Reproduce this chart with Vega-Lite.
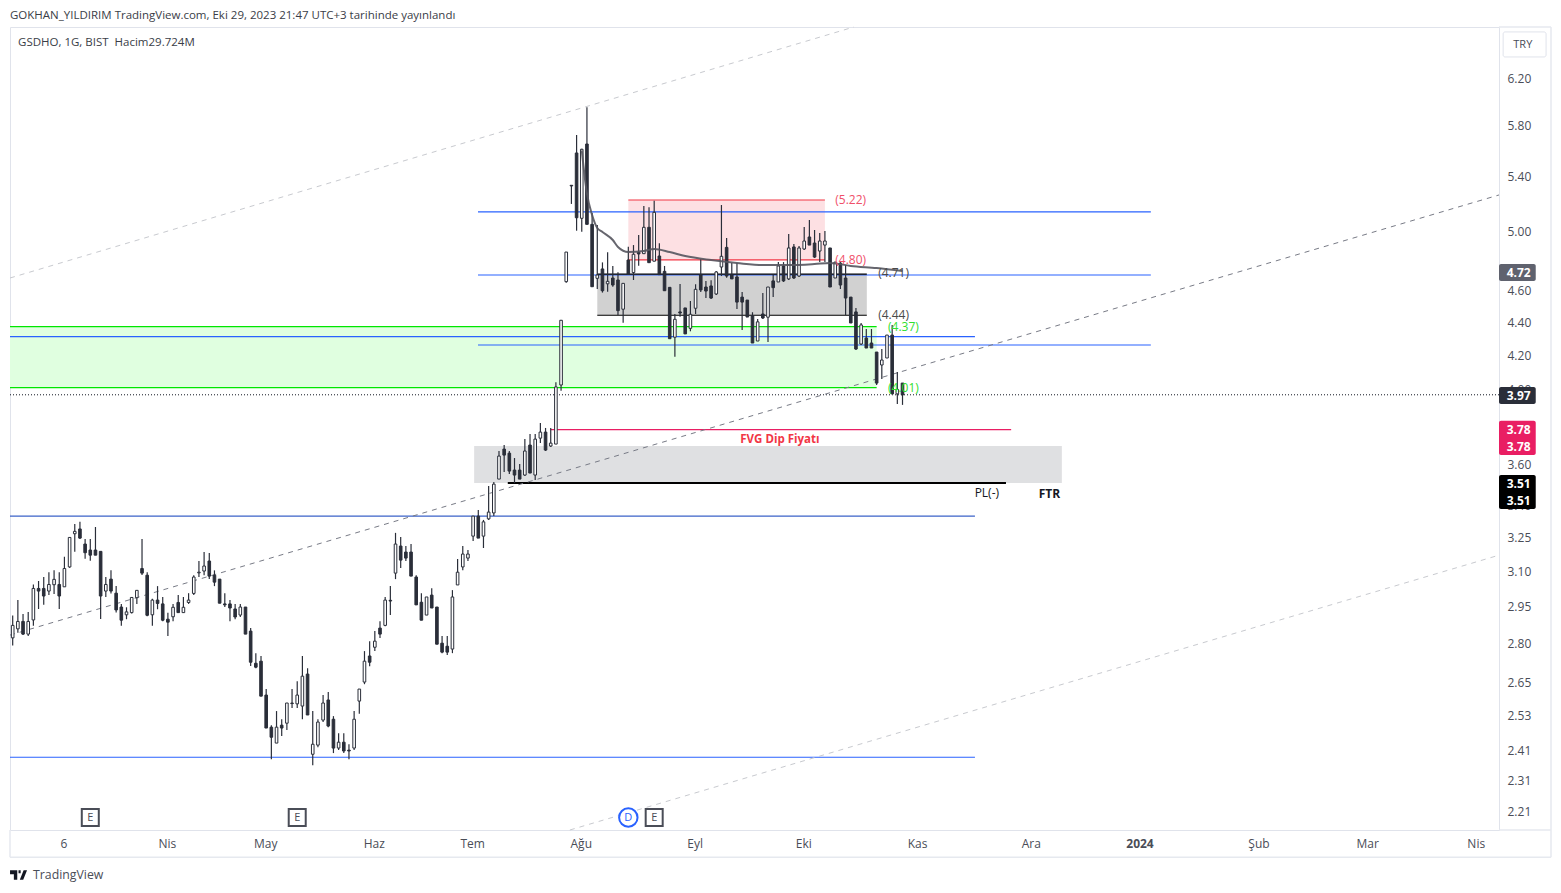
{"$schema":"https://vega.github.io/schema/vega-lite/v6.json","width":1489,"height":803,"autosize":"none","padding":{"left":10,"top":27,"right":62,"bottom":63},"background":"white","config":{"view":{"stroke":"#e0e3eb"},"font":"Open Sans","scale":{"continuousPadding":0}},
"resolve":{"scale":{"color":"independent"},"axis":{"x":"independent","y":"independent"}},
"datasets":{"candles":[
{"k":0,"open":2.82,"high":2.91,"low":2.79,"close":2.87},{"k":1,"open":2.856,"high":2.974,"low":2.84,"close":2.886},{"k":2,"open":2.886,"high":2.916,"low":2.831,"close":2.835},{"k":3,"open":2.835,"high":2.925,"low":2.827,"close":2.886},{"k":4,"open":2.892,"high":3.04,"low":2.868,"close":3.023},{"k":5,"open":3.023,"high":3.055,"low":2.937,"close":3.012},{"k":6,"open":3.023,"high":3.072,"low":2.955,"close":2.991},{"k":7,"open":3.012,"high":3.093,"low":2.995,"close":3.04},{"k":8,"open":3.039,"high":3.101,"low":3.0,"close":3.062},{"k":9,"open":3.04,"high":3.093,"low":2.937,"close":2.991},
{"k":10,"open":3.03,"high":3.161,"low":3.03,"close":3.109},{"k":11,"open":3.116,"high":3.248,"low":3.112,"close":3.248},{"k":12,"open":3.265,"high":3.31,"low":3.183,"close":3.276},{"k":13,"open":3.287,"high":3.32,"low":3.241,"close":3.245},{"k":14,"open":3.218,"high":3.241,"low":3.152,"close":3.179},{"k":15,"open":3.191,"high":3.241,"low":3.143,"close":3.168},{"k":16,"open":3.191,"high":3.296,"low":3.168,"close":3.168},{"k":17,"open":3.185,"high":3.185,"low":2.896,"close":2.991},{"k":18,"open":3.012,"high":3.072,"low":2.987,"close":3.04},{"k":19,"open":3.063,"high":3.102,"low":3.002,"close":3.012},
{"k":20,"open":3.003,"high":3.033,"low":2.922,"close":2.933},{"k":21,"open":2.945,"high":2.958,"low":2.868,"close":2.891},{"k":22,"open":2.913,"high":2.944,"low":2.895,"close":2.925},{"k":23,"open":2.922,"high":2.987,"low":2.918,"close":2.985},{"k":24,"open":2.984,"high":3.015,"low":2.958,"close":3.015},{"k":25,"open":3.109,"high":3.241,"low":3.081,"close":3.089},{"k":26,"open":3.08,"high":3.093,"low":2.907,"close":2.911},{"k":27,"open":2.913,"high":2.98,"low":2.868,"close":2.974},{"k":28,"open":2.974,"high":3.033,"low":2.936,"close":2.96},{"k":29,"open":2.958,"high":2.987,"low":2.887,"close":2.891},
{"k":30,"open":2.895,"high":2.921,"low":2.827,"close":2.883},{"k":31,"open":2.905,"high":2.958,"low":2.887,"close":2.944},{"k":32,"open":2.964,"high":2.995,"low":2.922,"close":2.922},{"k":33,"open":2.922,"high":2.987,"low":2.922,"close":2.944},{"k":34,"open":2.964,"high":3.003,"low":2.958,"close":2.974},{"k":35,"open":3.002,"high":3.08,"low":2.995,"close":3.072},{"k":36,"open":3.09,"high":3.142,"low":3.072,"close":3.093},{"k":37,"open":3.098,"high":3.182,"low":3.08,"close":3.12},{"k":38,"open":3.142,"high":3.178,"low":3.063,"close":3.076},{"k":39,"open":3.08,"high":3.101,"low":3.033,"close":3.05},
{"k":40,"open":3.063,"high":3.063,"low":2.961,"close":2.961},{"k":41,"open":2.958,"high":3.003,"low":2.945,"close":2.954},{"k":42,"open":2.958,"high":2.974,"low":2.887,"close":2.941},{"k":43,"open":2.937,"high":2.958,"low":2.895,"close":2.904},{"k":44,"open":2.912,"high":2.958,"low":2.904,"close":2.945},{"k":45,"open":2.945,"high":2.945,"low":2.835,"close":2.835},{"k":46,"open":2.847,"high":2.859,"low":2.711,"close":2.725},{"k":47,"open":2.721,"high":2.76,"low":2.702,"close":2.706},{"k":48,"open":2.729,"high":2.749,"low":2.598,"close":2.598},{"k":49,"open":2.602,"high":2.624,"low":2.484,"close":2.484},
{"k":50,"open":2.487,"high":2.494,"low":2.377,"close":2.452},{"k":51,"open":2.432,"high":2.544,"low":2.432,"close":2.487},{"k":52,"open":2.494,"high":2.515,"low":2.456,"close":2.484},{"k":53,"open":2.501,"high":2.573,"low":2.477,"close":2.573},{"k":54,"open":2.573,"high":2.624,"low":2.555,"close":2.571},{"k":55,"open":2.57,"high":2.653,"low":2.555,"close":2.602},{"k":56,"open":2.562,"high":2.749,"low":2.515,"close":2.672},{"k":57,"open":2.68,"high":2.702,"low":2.53,"close":2.53},{"k":58,"open":2.394,"high":2.544,"low":2.357,"close":2.428},{"k":59,"open":2.425,"high":2.515,"low":2.418,"close":2.505},
{"k":60,"open":2.512,"high":2.602,"low":2.505,"close":2.573},{"k":61,"open":2.584,"high":2.613,"low":2.487,"close":2.491},{"k":62,"open":2.515,"high":2.526,"low":2.398,"close":2.415},{"k":63,"open":2.415,"high":2.466,"low":2.408,"close":2.435},{"k":64,"open":2.435,"high":2.466,"low":2.398,"close":2.405},{"k":65,"open":2.408,"high":2.428,"low":2.377,"close":2.405},{"k":66,"open":2.415,"high":2.544,"low":2.408,"close":2.515},{"k":67,"open":2.58,"high":2.624,"low":2.534,"close":2.624},{"k":68,"open":2.65,"high":2.768,"low":2.642,"close":2.729},{"k":69,"open":2.749,"high":2.807,"low":2.71,"close":2.725},
{"k":70,"open":2.783,"high":2.847,"low":2.768,"close":2.807},{"k":71,"open":2.859,"high":2.887,"low":2.819,"close":2.835},{"k":72,"open":2.87,"high":2.987,"low":2.866,"close":2.974},{"k":73,"open":2.973,"high":3.033,"low":2.912,"close":2.97},{"k":74,"open":3.089,"high":3.269,"low":3.063,"close":3.218},{"k":75,"open":3.209,"high":3.25,"low":3.111,"close":3.146},{"k":76,"open":3.182,"high":3.209,"low":3.142,"close":3.155},{"k":77,"open":3.182,"high":3.218,"low":3.076,"close":3.076},{"k":78,"open":3.072,"high":3.08,"low":2.954,"close":2.954},{"k":79,"open":2.965,"high":3.003,"low":2.891,"close":2.891},
{"k":80,"open":2.912,"high":2.987,"low":2.912,"close":2.987},{"k":81,"open":2.995,"high":3.024,"low":2.941,"close":2.941},{"k":82,"open":2.945,"high":2.945,"low":2.795,"close":2.795},{"k":83,"open":2.799,"high":2.827,"low":2.76,"close":2.764},{"k":84,"open":2.787,"high":2.827,"low":2.753,"close":2.764},{"k":85,"open":2.776,"high":3.016,"low":2.76,"close":2.987},{"k":86,"open":3.038,"high":3.151,"low":3.038,"close":3.093},{"k":87,"open":3.116,"high":3.209,"low":3.102,"close":3.173},{"k":88,"open":3.155,"high":3.191,"low":3.142,"close":3.173},{"k":89,"open":3.254,"high":3.347,"low":3.232,"close":3.347},
{"k":90,"open":3.347,"high":3.376,"low":3.245,"close":3.245},{"k":91,"open":3.254,"high":3.329,"low":3.2,"close":3.32},{"k":92,"open":3.334,"high":3.492,"low":3.329,"close":3.366},{"k":93,"open":3.362,"high":3.511,"low":3.347,"close":3.501},{"k":94,"open":3.526,"high":3.668,"low":3.526,"close":3.642},{"k":95,"open":3.678,"high":3.699,"low":3.561,"close":3.647},{"k":96,"open":3.657,"high":3.668,"low":3.551,"close":3.566},{"k":97,"open":3.571,"high":3.632,"low":3.506,"close":3.546},{"k":98,"open":3.571,"high":3.601,"low":3.526,"close":3.526},{"k":99,"open":3.546,"high":3.73,"low":3.541,"close":3.668},
{"k":100,"open":3.699,"high":3.757,"low":3.556,"close":3.556},{"k":101,"open":3.546,"high":3.757,"low":3.521,"close":3.73},{"k":102,"open":3.735,"high":3.816,"low":3.709,"close":3.767},{"k":103,"open":3.767,"high":3.789,"low":3.668,"close":3.673},{"k":104,"open":3.694,"high":3.789,"low":3.689,"close":3.709},{"k":105,"open":3.704,"high":4.041,"low":3.704,"close":4.014},{"k":106,"open":4.025,"high":4.411,"low":3.993,"close":4.409},{"k":107,"open":4.655,"high":4.853,"low":4.648,"close":4.853},{"k":108,"open":5.331,"high":5.331,"low":5.193,"close":5.326},{"k":109,"open":5.579,"high":5.722,"low":5.001,"close":5.093},
{"k":110,"open":5.089,"high":5.613,"low":4.994,"close":5.608},{"k":111,"open":5.65,"high":5.95,"low":5.046,"close":5.046},{"k":112,"open":5.046,"high":5.127,"low":4.622,"close":4.622},{"k":113,"open":4.677,"high":5.042,"low":4.607,"close":4.699},{"k":114,"open":4.739,"high":4.783,"low":4.584,"close":4.596},{"k":115,"open":4.641,"high":4.851,"low":4.59,"close":4.657},{"k":116,"open":4.679,"high":4.759,"low":4.622,"close":4.633},{"k":117,"open":4.666,"high":4.717,"low":4.442,"close":4.469},{"k":118,"open":4.478,"high":4.644,"low":4.394,"close":4.644},{"k":119,"open":4.799,"high":4.89,"low":4.704,"close":4.704},
{"k":120,"open":4.715,"high":4.901,"low":4.666,"close":4.838},{"k":121,"open":4.851,"high":4.971,"low":4.76,"close":4.84},{"k":122,"open":4.842,"high":5.178,"low":4.842,"close":5.025},{"k":123,"open":5.025,"high":5.168,"low":4.781,"close":4.781},{"k":124,"open":4.791,"high":5.217,"low":4.791,"close":5.132},{"k":125,"open":4.826,"high":4.913,"low":4.701,"close":4.701},{"k":126,"open":4.723,"high":4.759,"low":4.596,"close":4.596},{"k":127,"open":4.618,"high":4.618,"low":4.296,"close":4.296},{"k":128,"open":4.305,"high":4.448,"low":4.189,"close":4.415},{"k":129,"open":4.461,"high":4.64,"low":4.431,"close":4.454},
{"k":130,"open":4.486,"high":4.486,"low":4.325,"close":4.325},{"k":131,"open":4.359,"high":4.53,"low":4.341,"close":4.446},{"k":132,"open":4.484,"high":4.638,"low":4.448,"close":4.605},{"k":133,"open":4.699,"high":4.804,"low":4.588,"close":4.601},{"k":134,"open":4.62,"high":4.66,"low":4.549,"close":4.594},{"k":135,"open":4.627,"high":4.664,"low":4.543,"close":4.549},{"k":136,"open":4.575,"high":4.725,"low":4.568,"close":4.719},{"k":137,"open":4.752,"high":5.185,"low":4.692,"close":4.824},{"k":138,"open":4.885,"high":4.95,"low":4.681,"close":4.692},{"k":139,"open":4.699,"high":4.779,"low":4.673,"close":4.673},
{"k":140,"open":4.686,"high":4.779,"low":4.479,"close":4.523},{"k":141,"open":4.555,"high":4.588,"low":4.349,"close":4.523},{"k":142,"open":4.536,"high":4.536,"low":4.429,"close":4.429},{"k":143,"open":4.436,"high":4.459,"low":4.27,"close":4.27},{"k":144,"open":4.282,"high":4.417,"low":4.282,"close":4.399},{"k":145,"open":4.448,"high":4.581,"low":4.417,"close":4.423},{"k":146,"open":4.428,"high":4.62,"low":4.276,"close":4.62},{"k":147,"open":4.66,"high":4.699,"low":4.555,"close":4.616},{"k":148,"open":4.653,"high":4.785,"low":4.653,"close":4.759},{"k":149,"open":4.759,"high":4.785,"low":4.653,"close":4.66},
{"k":150,"open":4.673,"high":4.978,"low":4.666,"close":4.881},{"k":151,"open":4.888,"high":4.908,"low":4.673,"close":4.679},{"k":152,"open":4.692,"high":4.895,"low":4.686,"close":4.881},{"k":153,"open":4.874,"high":5.027,"low":4.867,"close":4.929},{"k":154,"open":4.957,"high":5.077,"low":4.901,"close":4.901},{"k":155,"open":4.915,"high":5.006,"low":4.813,"close":4.819},{"k":156,"open":4.86,"high":4.985,"low":4.785,"close":4.929},{"k":157,"open":4.901,"high":4.999,"low":4.785,"close":4.929},{"k":158,"open":4.881,"high":4.881,"low":4.62,"close":4.62},{"k":159,"open":4.679,"high":4.785,"low":4.679,"close":4.785},
{"k":160,"open":4.778,"high":4.785,"low":4.607,"close":4.633},{"k":161,"open":4.679,"high":4.765,"low":4.442,"close":4.549},{"k":162,"open":4.555,"high":4.555,"low":4.392,"close":4.392},{"k":163,"open":4.461,"high":4.486,"low":4.228,"close":4.234},{"k":164,"open":4.264,"high":4.392,"low":4.258,"close":4.38},{"k":165,"open":4.3,"high":4.355,"low":4.24,"close":4.24},{"k":166,"open":4.27,"high":4.355,"low":4.24,"close":4.24},{"k":167,"open":4.216,"high":4.216,"low":4.025,"close":4.036},{"k":168,"open":4.14,"high":4.234,"low":4.059,"close":4.169},{"k":169,"open":4.181,"high":4.318,"low":4.181,"close":4.318},
{"k":170,"open":4.318,"high":4.38,"low":3.975,"close":3.975},{"k":171,"open":3.975,"high":4.099,"low":3.919,"close":4.0},{"k":172,"open":4.036,"high":4.036,"low":3.914,"close":3.97}],
"ma":[{"k":110,"p":5.6},{"k":111,"p":5.27},{"k":112,"p":5.113},{"k":113,"p":5.02},{"k":114,"p":4.992},{"k":116,"p":4.936},{"k":117,"p":4.888},{"k":119,"p":4.853},{"k":122,"p":4.86},{"k":124,"p":4.874},{"k":127,"p":4.853},{"k":130,"p":4.826},{"k":135,"p":4.799},{"k":140,"p":4.779},{"k":145,"p":4.765},{"k":150,"p":4.765},{"k":155,"p":4.772},{"k":158,"p":4.779},{"k":162,"p":4.759},{"k":167,"p":4.745},{"k":172,"p":4.725}],
"zones":[{"k":-0.52,"k2":167,"p":4.37,"p2":4.01,"zone":"support"},{"k":119,"k2":157,"p":5.222,"p2":4.8,"zone":"supply"},{"k":113,"k2":165.1,"p":4.705,"p2":4.44,"zone":"range"},{"k":89.2,"k2":202.8,"p":3.694,"p2":3.506,"zone":"ftr"}],
"levels":[{"k":89.94,"k2":220,"p":5.135,"kind":"blue"},{"k":89.94,"k2":220,"p":4.699,"kind":"blue"},{"k":89.94,"k2":220,"p":4.258,"kind":"blue"},{"k":-0.52,"k2":186,"p":4.309,"kind":"blue"},{"k":-0.52,"k2":186,"p":3.347,"kind":"slate"},{"k":-0.52,"k2":186,"p":2.384,"kind":"blue"},{"k":-0.52,"k2":167,"p":4.37,"kind":"lime"},{"k":-0.52,"k2":167,"p":4.01,"kind":"lime"},{"k":119,"k2":157,"p":5.222,"kind":"red"},{"k":119,"k2":157,"p":4.8,"kind":"red"},{"k":113,"k2":165.1,"p":4.705,"kind":"black"},{"k":113,"k2":165.1,"p":4.44,"kind":"black"},{"k":104,"k2":193,"p":3.78,"kind":"crimson"}],
"trends":[{"k":-0.52,"p":2.831,"k2":287.3,"p2":5.259,"kind":"dark"},{"k":-0.52,"p":4.679,"k2":162.6,"p2":6.661,"kind":"light"},{"k":107.7,"p":2.152,"k2":287.3,"p2":3.168,"kind":"light"}],
"notes":[{"k":159,"p":5.222,"t":"(5.22)","kind":"red"},{"k":159,"p":4.8,"t":"(4.80)","kind":"red"},{"k":167.3,"p":4.71,"t":"(4.71)","kind":"dark"},{"k":167.3,"p":4.44,"t":"(4.44)","kind":"dark"},{"k":169.2,"p":4.37,"t":"(4.37)","kind":"green"},{"k":169.2,"p":4.01,"t":"(4.01)","kind":"green"}],
"tags":[{"k":287.3,"k2":294.4,"p":4.772,"p2":4.66,"kind":"ma"},{"k":287.3,"k2":294.4,"p":4.014,"p2":3.919,"kind":"last"},{"k":287.3,"k2":294.4,"p":3.827,"p2":3.647,"kind":"fvg"},{"k":287.3,"k2":294.4,"p":3.546,"p2":3.381,"kind":"pl"}],
"tagtext":[{"k":291.1,"p":4.715,"t":"4.72"},{"k":291.1,"p":3.966,"t":"3.97"},{"k":291.1,"p":3.778,"t":"3.78"},{"k":291.1,"p":3.689,"t":"3.78"},{"k":291.1,"p":3.501,"t":"3.51"},{"k":291.1,"p":3.418,"t":"3.51"}],
"frame":[{"k":297.35,"k2":297.35,"p":6.661,"p2":2.071},{"k":-0.52,"k2":297.35,"p":2.071,"p2":2.071},{"k":-0.52,"k2":-0.52,"p":2.152,"p2":2.071},{"k":287.3,"k2":297.35,"p":6.661,"p2":6.661},{"k":287.3,"k2":297.35,"p":2.152,"p2":2.152}]},
"layer":[
{"data":{"name":"zones"},"mark":{"type":"rect"},"encoding":{"x":{"field":"k","type":"quantitative","scale":{"domain":[-0.52,287.3],"nice":false,"zero":false,"padding":0},"axis":{"title":null,"values":[10,30,49,70,89,110,132,153,175,197,218,241,262,283],"labelExpr":"{'10':'6','30':'Nis','49':'May','70':'Haz','89':'Tem','110':'Ağu','132':'Eyl','153':'Eki','175':'Kas','197':'Ara','218':'2024','241':'Şub','262':'Mar','283':'Nis'}[datum.value]","grid":false,"ticks":false,"domainColor":"#e0e3eb","labelColor":"#4a4d57","labelFontSize":12,"labelPadding":8,"labelOffset":-1,"labelOverlap":false,"labelFlush":false,"labelFontWeight":{"condition":{"test":"datum.value==218","value":"bold"},"value":"normal"}}},"x2":{"field":"k2"},"y":{"field":"p","type":"quantitative","scale":{"type":"log","domain":[2.152,6.661],"nice":false,"zero":false},"axis":{"title":null,"orient":"right","values":[6.2,5.8,5.4,5.0,4.6,4.4,4.2,4.0,3.6,3.4,3.25,3.1,2.95,2.8,2.65,2.53,2.41,2.31,2.21],"format":".2f","grid":false,"ticks":false,"domainColor":"#e0e3eb","labelColor":"#4a4d57","labelFontSize":12,"labelPadding":8,"labelOffset":0.5,"labelOverlap":false,"labelFlush":false}},"y2":{"field":"p2"},"color":{"field":"zone","type":"nominal","legend":null,"scale":{"domain":["support","supply","range","ftr"],"range":["#e0ffe0","#fde0e3","#d1d1d1","#dfe0e2"]}}}},
{"data":{"name":"levels"},"mark":{"type":"rule","strokeWidth":1.15},"encoding":{"x":{"field":"k","type":"quantitative","axis":null},"x2":{"field":"k2"},"y":{"field":"p","type":"quantitative","scale":{"type":"log"},"axis":null},"color":{"field":"kind","type":"nominal","legend":null,"scale":{"domain":["blue","slate","lime","red","black","crimson"],"range":["#2962ff","#3b62c8","#00e600","#f23645","#000000","#e91e63"]}}}},
{"data":{"values":[{"k":95.7,"k2":192,"p":3.506}]},"mark":{"type":"rule","strokeWidth":2,"color":"#000000"},"encoding":{"x":{"field":"k","type":"quantitative","axis":null},"x2":{"field":"k2"},"y":{"field":"p","type":"quantitative","scale":{"type":"log"},"axis":null}}},
{"data":{"values":[{"k":-0.52,"k2":287.3,"p":3.97}]},"mark":{"type":"rule","strokeWidth":1,"strokeDash":[1,2],"color":"#131722"},"encoding":{"x":{"field":"k","type":"quantitative","axis":null},"x2":{"field":"k2"},"y":{"field":"p","type":"quantitative","scale":{"type":"log"},"axis":null}}},
{"data":{"name":"trends"},"mark":{"type":"rule","strokeWidth":1,"strokeDash":[5,5]},"encoding":{"x":{"field":"k","type":"quantitative","axis":null},"x2":{"field":"k2"},"y":{"field":"p","type":"quantitative","scale":{"type":"log"},"axis":null},"y2":{"field":"p2"},"color":{"field":"kind","type":"nominal","legend":null,"scale":{"domain":["dark","light"],"range":["#787b86","#c8cacf"]}}}},
{"data":{"name":"candles"},"mark":{"type":"rule","strokeWidth":1.2,"color":"#2a2e39"},"encoding":{"x":{"field":"k","type":"quantitative","axis":null},"y":{"field":"high","type":"quantitative","scale":{"type":"log"},"axis":null},"y2":{"field":"low"}}},
{"data":{"name":"candles"},"mark":{"type":"bar","width":2.6,"stroke":"#2a2e39","strokeWidth":1},"encoding":{"x":{"field":"k","type":"quantitative","axis":null},"y":{"field":"open","type":"quantitative","scale":{"type":"log"},"axis":null},"y2":{"field":"close"},"fill":{"condition":{"test":"datum.close>=datum.open","value":"#ffffff"},"value":"#2a2e39"}}},
{"data":{"name":"ma"},"mark":{"type":"line","strokeWidth":2,"color":"#55555e","opacity":0.9,"interpolate":"monotone"},"encoding":{"x":{"field":"k","type":"quantitative","axis":null},"y":{"field":"p","type":"quantitative","scale":{"type":"log"},"axis":null}}},
{"data":{"name":"notes"},"mark":{"type":"text","align":"left","baseline":"middle","fontSize":12},"encoding":{"x":{"field":"k","type":"quantitative","axis":null},"y":{"field":"p","type":"quantitative","scale":{"type":"log"},"axis":null},"text":{"field":"t"},"color":{"field":"kind","type":"nominal","legend":null,"scale":{"domain":["red","dark","green"],"range":["#f0506a","#4a4a4a","#2fe02f"]}}}},
{"data":{"values":[{"k":148.3,"p":3.73,"t":"FVG Dip Fiyatı"}]},"mark":{"type":"text","align":"center","baseline":"middle","dy":1,"fontSize":11.5,"fontWeight":"bold","color":"#f23645"},"encoding":{"x":{"field":"k","type":"quantitative","axis":null},"y":{"field":"p","type":"quantitative","scale":{"type":"log"},"axis":null},"text":{"field":"t"}}},
{"data":{"values":[{"k":200.4,"p":3.452,"t":"FTR"}]},"mark":{"type":"text","align":"center","baseline":"middle","fontSize":12,"fontWeight":"bold","color":"#131722"},"encoding":{"x":{"field":"k","type":"quantitative","axis":null},"y":{"field":"p","type":"quantitative","scale":{"type":"log"},"axis":null},"text":{"field":"t"}}},
{"data":{"values":[{"k":188.3,"p":3.457,"t":"PL(-)"}]},"mark":{"type":"text","align":"center","baseline":"middle","fontSize":12,"color":"#131722"},"encoding":{"x":{"field":"k","type":"quantitative","axis":null},"y":{"field":"p","type":"quantitative","scale":{"type":"log"},"axis":null},"text":{"field":"t"}}},
{"data":{"values":[{"k":-0.52,"p":6.775,"t":"GOKHAN_YILDIRIM TradingView.com, Eki 29, 2023 21:47 UTC+3 tarihinde yayınlandı"},{"k":1.03,"p":6.522,"t":"GSDHO, 1G, BIST\u00a0\u00a0Hacim29.724M"}]},"mark":{"type":"text","align":"left","baseline":"middle","dy":1,"fontSize":11.5,"color":"#3a3d47"},"encoding":{"x":{"field":"k","type":"quantitative","axis":null},"y":{"field":"p","type":"quantitative","scale":{"type":"log"},"axis":null},"text":{"field":"t"}}},
{"data":{"values":[{"k":3.93,"p":2.02,"t":"TradingView"}]},"mark":{"type":"text","align":"left","baseline":"middle","fontSize":12.3,"color":"#4a4d57"},"encoding":{"x":{"field":"k","type":"quantitative","axis":null},"y":{"field":"p","type":"quantitative","scale":{"type":"log"},"axis":null},"text":{"field":"t"}}},
{"data":{"values":[{"k":1.13,"p":2.02}]},"mark":{"type":"point","filled":true,"opacity":1,"size":289,"color":"#131722","shape":"M-1,-0.55 L-0.15,-0.55 L-0.15,0.55 L-0.55,0.55 L-0.55,-0.1 L-1,-0.1 Z M0,-0.55 L0.25,-0.55 L0.25,-0.2 L0,-0.2 Z M0.6,-0.55 L1,-0.55 L0.55,0.55 L0.15,0.55 Z"},"encoding":{"x":{"field":"k","type":"quantitative","axis":null},"y":{"field":"p","type":"quantitative","scale":{"type":"log"},"axis":null}}},
{"data":{"values":[{"k":15,"p":2.19},{"k":55,"p":2.19},{"k":124,"p":2.19}]},"mark":{"type":"point","shape":"square","filled":true,"opacity":1,"size":289,"fill":"#ffffff","stroke":"#4a4d57","strokeWidth":2},"encoding":{"x":{"field":"k","type":"quantitative","axis":null},"y":{"field":"p","type":"quantitative","scale":{"type":"log"},"axis":null}}},
{"data":{"values":[{"k":119,"p":2.19}]},"mark":{"type":"point","shape":"circle","filled":true,"opacity":1,"size":340,"fill":"#ffffff","stroke":"#2962ff","strokeWidth":2},"encoding":{"x":{"field":"k","type":"quantitative","axis":null},"y":{"field":"p","type":"quantitative","scale":{"type":"log"},"axis":null}}},
{"data":{"values":[{"k":15,"p":2.19,"t":"E"},{"k":55,"p":2.19,"t":"E"},{"k":124,"p":2.19,"t":"E"}]},"mark":{"type":"text","align":"center","baseline":"middle","fontSize":11,"color":"#4a4d57"},"encoding":{"x":{"field":"k","type":"quantitative","axis":null},"y":{"field":"p","type":"quantitative","scale":{"type":"log"},"axis":null},"text":{"field":"t"}}},
{"data":{"values":[{"k":119,"p":2.19,"t":"D"}]},"mark":{"type":"text","align":"center","baseline":"middle","fontSize":11,"color":"#2962ff"},"encoding":{"x":{"field":"k","type":"quantitative","axis":null},"y":{"field":"p","type":"quantitative","scale":{"type":"log"},"axis":null},"text":{"field":"t"}}},
{"data":{"name":"frame"},"mark":{"type":"rule","strokeWidth":1.5,"color":"#e6e9ef"},"encoding":{"x":{"field":"k","type":"quantitative","axis":null},"x2":{"field":"k2"},"y":{"field":"p","type":"quantitative","scale":{"type":"log"},"axis":null},"y2":{"field":"p2"}}},
{"data":{"name":"tags"},"mark":{"type":"rect","cornerRadius":2},"encoding":{"x":{"field":"k","type":"quantitative","axis":null},"x2":{"field":"k2"},"y":{"field":"p","type":"quantitative","scale":{"type":"log"},"axis":null},"y2":{"field":"p2"},"color":{"field":"kind","type":"nominal","legend":null,"scale":{"domain":["ma","last","fvg","pl"],"range":["#5f626e","#2a2e39","#e91e63","#000000"]}}}},
{"data":{"name":"tagtext"},"mark":{"type":"text","align":"center","baseline":"middle","fontSize":12,"fontWeight":"bold","color":"#ffffff"},"encoding":{"x":{"field":"k","type":"quantitative","axis":null},"y":{"field":"p","type":"quantitative","scale":{"type":"log"},"axis":null},"text":{"field":"t"}}},
{"data":{"values":[{"k":288.1,"k2":296.4,"p":6.615,"p2":6.386}]},"mark":{"type":"rect","cornerRadius":2,"fill":"#ffffff","stroke":"#e0e3eb","strokeWidth":1},"encoding":{"x":{"field":"k","type":"quantitative","axis":null},"x2":{"field":"k2"},"y":{"field":"p","type":"quantitative","scale":{"type":"log"},"axis":null},"y2":{"field":"p2"}}},
{"data":{"values":[{"k":291.9,"p":6.504,"t":"TRY"}]},"mark":{"type":"text","align":"center","baseline":"middle","dy":1,"fontSize":11,"color":"#4a4d57"},"encoding":{"x":{"field":"k","type":"quantitative","axis":null},"y":{"field":"p","type":"quantitative","scale":{"type":"log"},"axis":null},"text":{"field":"t"}}}
]}
